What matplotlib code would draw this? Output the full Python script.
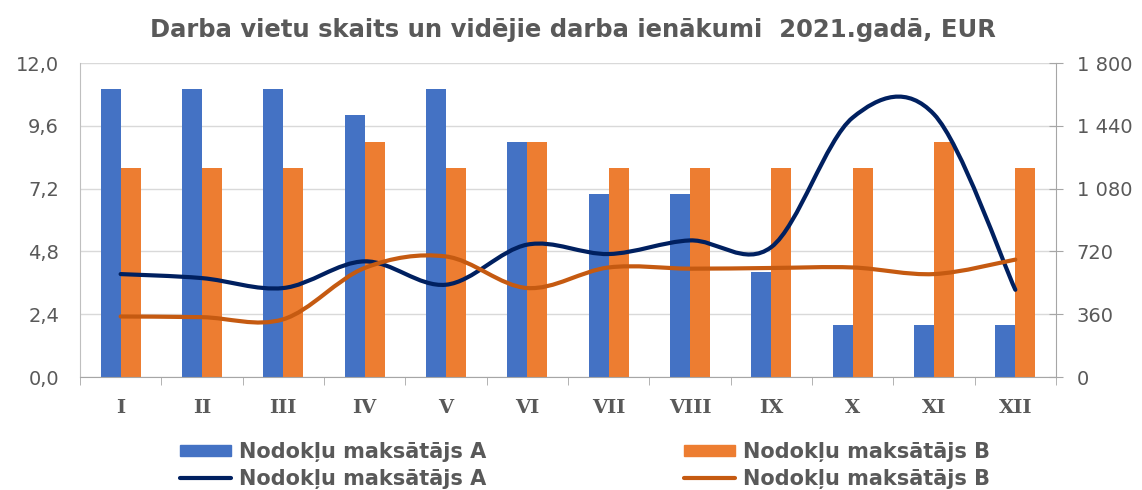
import matplotlib.pyplot as plt
import numpy as np
from matplotlib.path import Path
from matplotlib.patches import PathPatch, Patch
from matplotlib.lines import Line2D
from matplotlib.ticker import FixedLocator

plt.rcParams['font.family'] = ['DejaVu Sans']

months = ["I", "II", "III", "IV", "V", "VI", "VII", "VIII", "IX", "X", "XI", "XII"]
bars_a = [11, 11, 11, 10, 11, 9, 7, 7, 4, 2, 2, 2]
bars_b = [8, 8, 8, 9, 8, 9, 8, 8, 8, 8, 9, 8]
line_a = [590, 567, 510, 663, 529, 759, 705, 783, 745, 1487, 1506, 500]
line_b = [347, 343, 331, 625, 691, 510, 628, 621, 625, 628, 590, 673]

label_a = "Nodokļu maksātājs A"
label_b = "Nodokļu maksātājs B"

c_bar_a = "#4472C4"
c_bar_b = "#ED7D31"
c_line_a = "#002060"
c_line_b = "#C55A11"
c_text = "#595959"


def smooth_path(xs, ys):
    # Excel-like smoothed line: Catmull-Rom as cubic Bezier segments
    pts = np.column_stack([xs, ys]).astype(float)
    n = len(pts)
    verts = [pts[0]]
    codes = [Path.MOVETO]
    for i in range(n - 1):
        p0 = pts[i - 1] if i > 0 else pts[i]
        p1 = pts[i]
        p2 = pts[i + 1]
        p3 = pts[i + 2] if i + 2 < n else pts[i + 1]
        c1 = p1 + (p2 - p0) / 6
        c2 = p2 - (p3 - p1) / 6
        verts += [c1, c2, p2]
        codes += [Path.CURVE4] * 3
    return Path(verts, codes)


fig = plt.figure(figsize=(11.42, 4.9), dpi=100)
ax = fig.add_axes([0.070, 0.2306, 0.8547, 0.6408])
x = np.arange(len(months))
w = 0.245

ax.bar(x - w / 2, bars_a, w, color=c_bar_a, zorder=2)
ax.bar(x + w / 2, bars_b, w, color=c_bar_b, zorder=2)

ax.set_xlim(-0.5, 11.5)
ax.set_ylim(0, 12)
yt = np.arange(0, 12.01, 2.4)
ax.set_yticks(yt)
ax.set_yticklabels([f"{v:.1f}".replace(".", ",") for v in yt])
ax.yaxis.grid(True, color="#D9D9D9", lw=1)
ax.set_axisbelow(True)

ax.set_xticks(x)
ax.set_xticklabels(months, fontweight="bold", fontsize=14, color=c_text,
                   family="DejaVu Serif")
ax.xaxis.set_minor_locator(FixedLocator(np.arange(-0.5, 12, 1)))
ax.tick_params(axis="x", which="major", length=0, pad=16)
ax.tick_params(axis="x", which="minor", length=6, color="#A6A6A6", direction="out")
ax.tick_params(axis="y", length=0, pad=15, labelsize=14, labelcolor=c_text)

for s in ["top", "right"]:
    ax.spines[s].set_visible(False)
ax.spines["left"].set_color("#BFBFBF")
ax.spines["bottom"].set_color("#A6A6A6")

ax2 = ax.twinx()
ax2.set_ylim(0, 1800)
rt = np.arange(0, 1801, 360)
ax2.set_yticks(rt)
ax2.set_yticklabels([f"{v:,}".replace(",", " ") for v in rt])
ax2.tick_params(axis="y", direction="inout", length=10, color="#A6A6A6",
                pad=10, labelsize=14, labelcolor=c_text)
for s in ["top", "left", "bottom"]:
    ax2.spines[s].set_visible(False)
ax2.spines["right"].set_color("#A6A6A6")

ax2.add_patch(PathPatch(smooth_path(x, line_a), fill=False, edgecolor=c_line_a,
                        lw=3, capstyle="round", joinstyle="round", zorder=3))
ax2.add_patch(PathPatch(smooth_path(x, line_b), fill=False, edgecolor=c_line_b,
                        lw=3, capstyle="round", joinstyle="round", zorder=3))

fig.text(0.502, 0.938, "Darba vietu skaits un vidējie darba ienākumi  2021.gadā, EUR",
         ha="center", va="center", fontsize=17.5, fontweight="bold", color=c_text)

handles = [
    Patch(color=c_bar_a, label=label_a),
    Line2D([], [], color=c_line_a, lw=3, solid_capstyle="round", label=label_a),
    Patch(color=c_bar_b, label=label_b),
    Line2D([], [], color=c_line_b, lw=3, solid_capstyle="round", label=label_b),
]
leg = fig.legend(handles=handles, ncol=2, loc="center", bbox_to_anchor=(0.512, 0.05),
                 frameon=False, prop={"weight": "bold", "size": 15},
                 handlelength=2.45, handleheight=0.5, handletextpad=0.38,
                 columnspacing=9.5, labelspacing=0.35)
for t in leg.get_texts():
    t.set_color(c_text)

fig.savefig("out.png", dpi=100)
